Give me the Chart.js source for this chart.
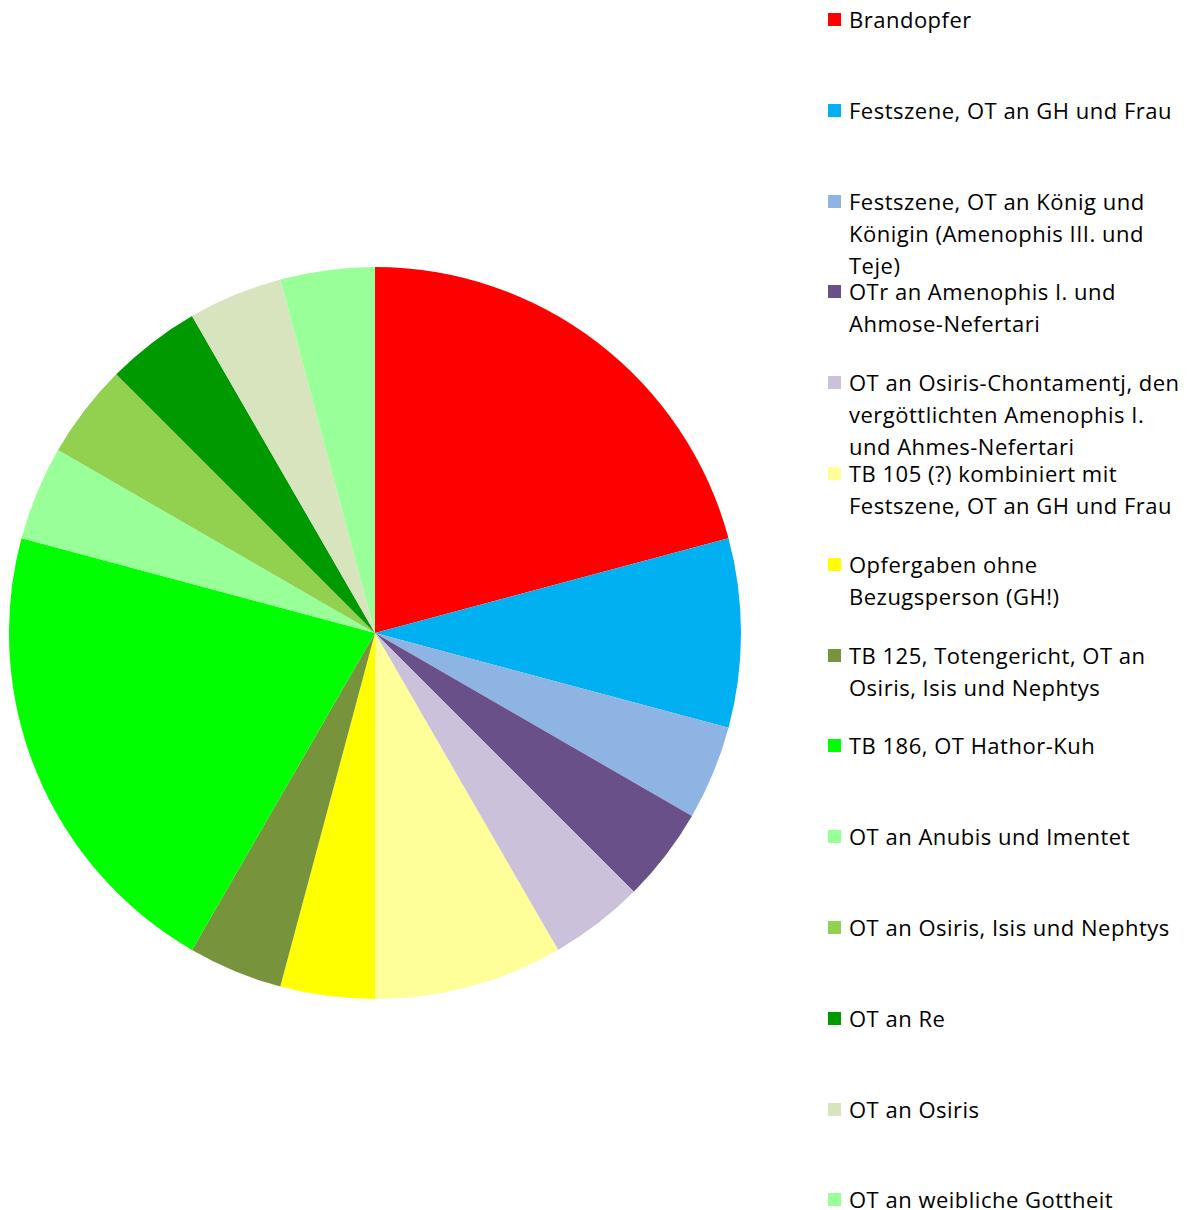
<!DOCTYPE html>
<html>
<head>
<meta charset="utf-8">
<script src="https://cdn.jsdelivr.net/npm/chart.js@4"></script>
<style>
  body { margin: 0; background: #fff; }
  #wrap { position: relative; width: 1191px; height: 1210px; }
  #pieBox { position: absolute; left: 9px; top: 267px; width: 732px; height: 732px; }
  #legend { position: absolute; left: 826px; top: 0; width: 365px; font-family: "Open Sans", sans-serif; font-size: 22px; letter-spacing: 0.5px; color: #000; }
  .item { position: absolute; left: 0; width: 365px; line-height: 32px; }
  .box { position: absolute; left: 2px; top: 10px; width: 13px; height: 13px; }
  .txt { margin-left: 23px; width: 336px; }
</style>
</head>
<body>
<div id="wrap">
  <div id="pieBox"><canvas id="pie"></canvas></div>
  <div id="legend"></div>
</div>
<script>
const labels = [
  "Brandopfer",
  "Festszene, OT an GH und Frau",
  "Festszene, OT an König und Königin (Amenophis III. und Teje)",
  "OTr an Amenophis I. und Ahmose-Nefertari",
  "OT an Osiris-Chontamentj, den vergöttlichten Amenophis I. und Ahmes-Nefertari",
  "TB 105 (?) kombiniert mit Festszene, OT an GH und Frau",
  "Opfergaben ohne Bezugsperson (GH!)",
  "TB 125, Totengericht, OT an Osiris, Isis und Nephtys",
  "TB 186, OT Hathor-Kuh",
  "OT an Anubis und Imentet",
  "OT an Osiris, Isis und Nephtys",
  "OT an Re",
  "OT an Osiris",
  "OT an weibliche Gottheit"
];
const counts = [5, 2, 1, 1, 1, 2, 1, 1, 5, 1, 1, 1, 1, 1];
const colors = [
  "#FF0000", "#00B0F0", "#8EB4E3", "#6A5088", "#CCC1DA", "#FFFF99", "#FFFF00",
  "#77933C", "#00FF00", "#99FF99", "#92D050", "#009900", "#D7E4BD", "#99FF99"
];

const chart = new Chart(document.getElementById('pie'), {
  type: 'pie',
  data: {
    labels: labels,
    datasets: [{
      data: counts,
      backgroundColor: colors,
      borderWidth: 0
    }]
  },
  options: {
    responsive: true,
    maintainAspectRatio: false,
    animation: false,
    layout: { padding: 0 },
    plugins: {
      legend: { display: false },
      tooltip: { enabled: false }
    }
  }
});

// html legend so the long labels can wrap
const legendEl = document.getElementById('legend');
chart.data.labels.forEach((lab, i) => {
  const item = document.createElement('div');
  item.className = 'item';
  item.style.top = (3 + i * 90.8) + 'px';
  const box = document.createElement('span');
  box.className = 'box';
  box.style.background = chart.data.datasets[0].backgroundColor[i];
  const txt = document.createElement('div');
  txt.className = 'txt';
  txt.textContent = lab;
  item.appendChild(box);
  item.appendChild(txt);
  legendEl.appendChild(item);
});
</script>
</body>
</html>
